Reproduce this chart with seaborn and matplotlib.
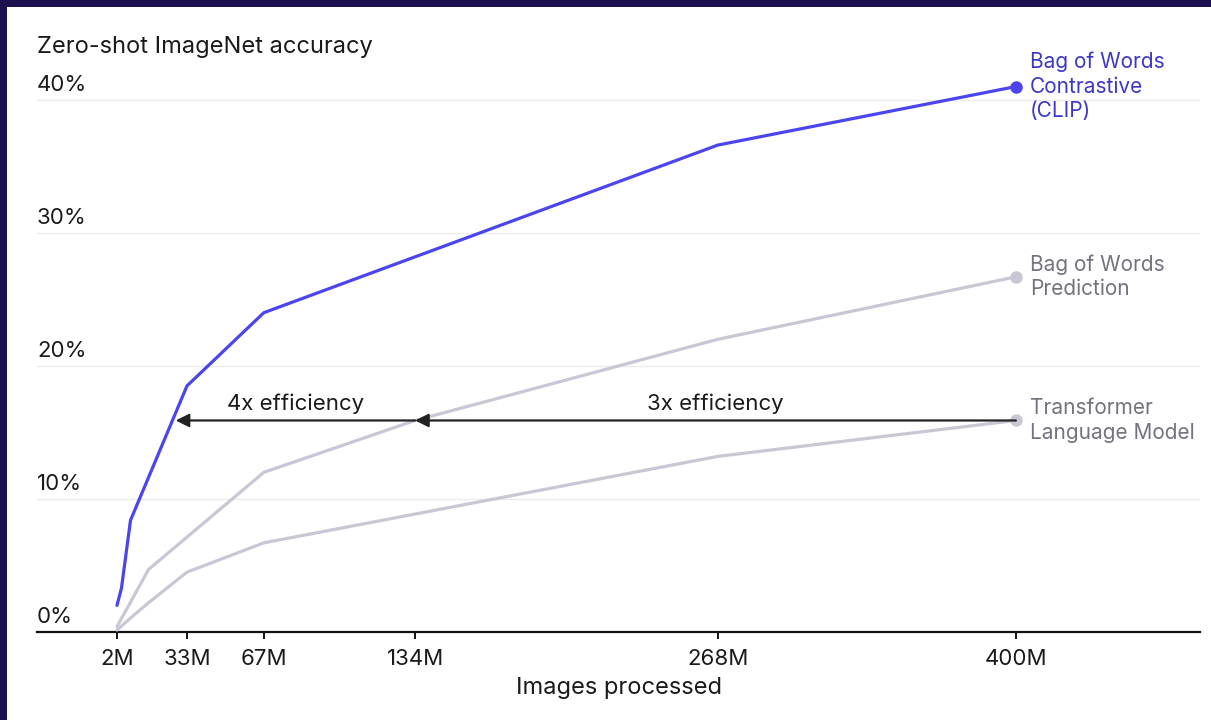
import matplotlib
matplotlib.use("Agg")
import matplotlib.pyplot as plt
import seaborn as sns
import pandas as pd

# Datos (x en millones de imágenes, y en %)
clip_x = [2, 4, 8, 33, 67, 268, 400]
clip_y = [2.0, 3.3, 8.4, 18.5, 24.0, 36.6, 41.0]

bow_x = [2, 16, 67, 134, 268, 400]
bow_y = [0.4, 4.7, 12.0, 15.9, 22.0, 26.7]

tlm_x = [2, 8, 16, 33, 67, 268, 400]
tlm_y = [0.15, 1.05, 2.2, 4.5, 6.7, 13.2, 15.9]

series_names = ["Bag of Words\nContrastive\n(CLIP)", "Bag of Words\nPrediction", "Transformer\nLanguage Model"]

x_ticks = [2, 33, 67, 134, 268, 400]
x_tick_labels = ["2M", "33M", "67M", "134M", "268M", "400M"]
y_ticks = [0, 10, 20, 30, 40]
y_tick_labels = ["0%", "10%", "20%", "30%", "40%"]

# flechas de eficiência: (x_inicio, x_fim, texto), em milhões
arrow_y = 15.9
arrows = [(134, 28, "4x efficiency"), (400, 134, "3x efficiency")]

NAVY = "#1d1050"
BLUE = "#4b45f0"
BLUE_TXT = "#3d37c8"
GRAY = "#c9c7d3"
GRAY_TXT = "#74727e"
INK = "#1a1a1a"

sns.set_theme(style="white")
plt.rcParams["font.family"] = ["Inter", "DejaVu Sans"]

fig = plt.figure(figsize=(12.11, 7.2), dpi=100, facecolor=NAVY)
# painel branco
fig.patches.append(plt.Rectangle((7 / 1211, 0), 1, 1 - 7 / 720, transform=fig.transFigure,
                                 facecolor="white", edgecolor="none", zorder=-5))
ax = fig.add_axes([37 / 1211, 88 / 720, 1163 / 1211, 592 / 720])
ax.set_facecolor("none")

df = pd.concat([
    pd.DataFrame({"x": clip_x, "y": clip_y, "serie": series_names[0]}),
    pd.DataFrame({"x": bow_x, "y": bow_y, "serie": series_names[1]}),
    pd.DataFrame({"x": tlm_x, "y": tlm_y, "serie": series_names[2]}),
])
colors = {series_names[0]: BLUE, series_names[1]: GRAY, series_names[2]: GRAY}
txt_colors = {series_names[0]: BLUE_TXT, series_names[1]: GRAY_TXT, series_names[2]: GRAY_TXT}

# cinzas primeiro, azul por cima
for name in series_names[::-1]:
    d = df[df["serie"] == name]
    sns.lineplot(data=d, x="x", y="y", color=colors[name], lw=2.3, ax=ax,
                 sort=False, legend=False, zorder=3)
    ax.plot(d["x"].iloc[-1], d["y"].iloc[-1], "o", color=colors[name], ms=8,
            clip_on=False, zorder=4)
    ax.annotate(name, xy=(d["x"].iloc[-1], d["y"].iloc[-1]), xytext=(10, 0),
                textcoords="offset points", ha="left", va="center",
                color=txt_colors[name], fontsize=15, linespacing=1.28)

ax.set_xlim(-33.4, 481.5)
ax.set_ylim(0, 44.5)

# grade e rótulos do eixo y acima das linhas
for v, lab in zip(y_ticks, y_tick_labels):
    if v > 0:
        ax.axhline(v, color="#ececec", lw=1, zorder=1)
    ax.annotate(lab, xy=(0, v), xycoords=("axes fraction", "data"), xytext=(0, 3.5),
                textcoords="offset points", ha="left", va="bottom",
                fontsize=16, color=INK)
ax.set_yticks([])

for s in ["top", "right", "left"]:
    ax.spines[s].set_visible(False)
ax.spines["bottom"].set_color("#111111")
ax.spines["bottom"].set_linewidth(1.6)
ax.set_xticks(x_ticks)
ax.set_xticklabels(x_tick_labels, fontsize=16, color=INK)
ax.tick_params(axis="x", bottom=True, length=5, width=1.4, color="#111111", pad=7)
ax.set_xlabel("Images processed", fontsize=17, color=INK, labelpad=6)
ax.set_ylabel("")

# flechas
for x0, x1, txt in arrows:
    ax.annotate("", xy=(x1, arrow_y), xytext=(x0, arrow_y),
                arrowprops=dict(arrowstyle="-|>", color="#222222", lw=1.6,
                                mutation_scale=20, shrinkA=0, shrinkB=0), zorder=5)
    ax.annotate(txt, xy=((x0 + x1) / 2, arrow_y), xytext=(0, 5),
                textcoords="offset points", ha="center", va="bottom",
                fontsize=16, color=INK)

fig.text(37 / 1211, 1 - 47 / 720, "Zero-shot ImageNet accuracy", ha="left", va="center",
         fontsize=17, color=INK)

fig.savefig("out.png", dpi=100, facecolor=NAVY)
